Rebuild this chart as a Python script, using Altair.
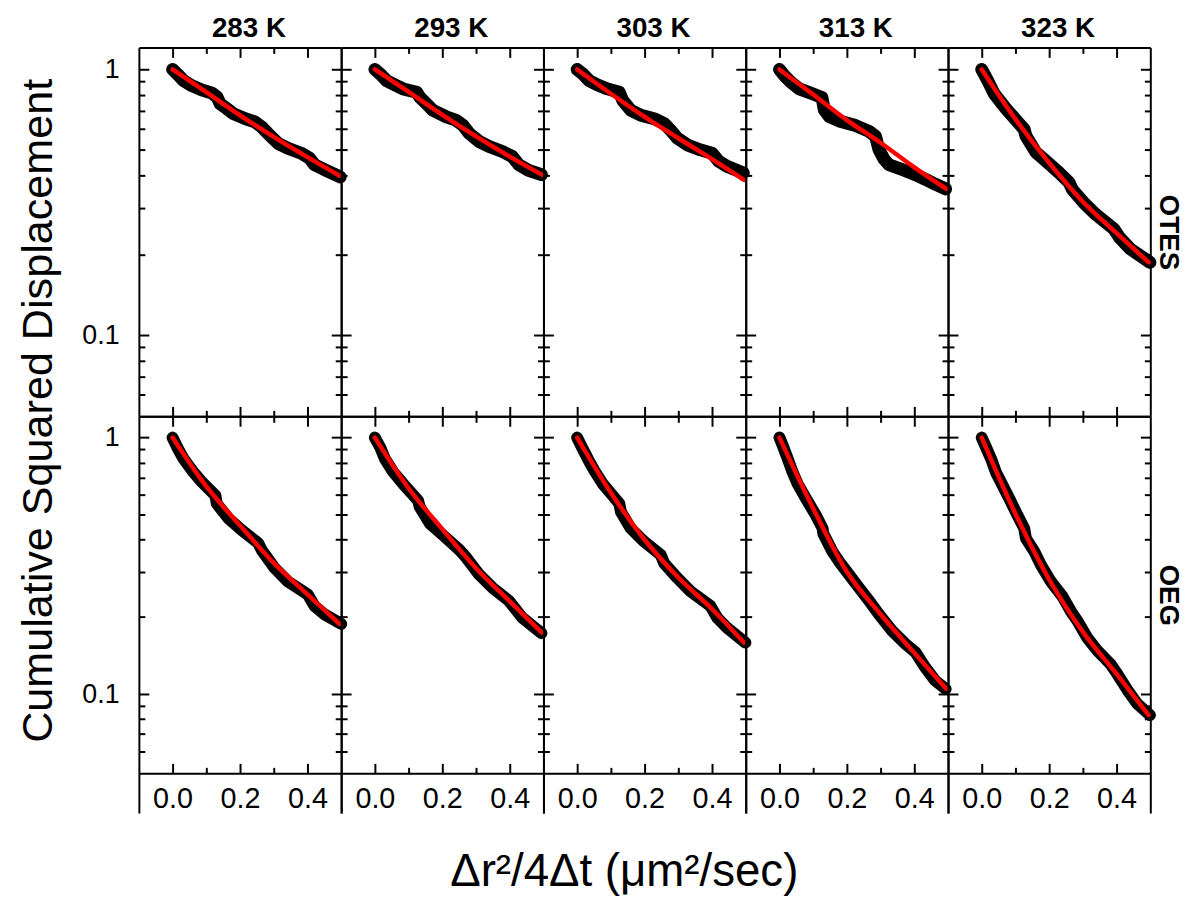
import altair as alt
import pandas as pd

TEMPS = ["283 K", "293 K", "303 K", "313 K", "323 K"]
ROWS = ["OTES", "OEG"]

# measured curves (black symbols), x = dr^2/4dt, v = cumulative fraction
OTES_283_X = [0, .014, .033, .057, .086, .117, .132, .141, .161, .180, .215, .244, .264, .288, .313, .342, .381, .406, .421, .450, .497]
OTES_283_V = [1, .961, .907, .869, .838, .814, .787, .743, .712, .682, .653, .635, .608, .566, .527, .505, .484, .464, .438, .420, .394]
OTES_293_X = [0, .016, .035, .060, .084, .124, .133, .153, .172, .212, .241, .261, .280, .310, .339, .378, .407, .427, .456, .494]
OTES_293_V = [1, .961, .907, .874, .845, .821, .787, .743, .702, .663, .644, .617, .574, .535, .513, .491, .471, .438, .417, .402]
OTES_303_X = [0, .017, .036, .061, .090, .125, .135, .159, .189, .228, .258, .277, .297, .327, .366, .400, .420, .444, .493]
OTES_303_V = [1, .961, .907, .874, .845, .821, .765, .702, .672, .653, .626, .591, .551, .520, .498, .484, .451, .432, .408]
OTES_313_X = [0, .015, .034, .059, .098, .126, .133, .148, .177, .226, .266, .285, .295, .310, .325, .364, .403, .433, .462, .493]
OTES_313_V = [1, .947, .895, .845, .810, .785, .705, .665, .640, .615, .585, .560, .500, .460, .438, .420, .402, .386, .370, .355]
OTES_323_X = [0, .018, .037, .072, .102, .126, .131, .161, .195, .230, .259, .269, .303, .338, .392, .410, .441, .499]
OTES_323_V = [1, .907, .810, .712, .644, .595, .562, .487, .447, .408, .376, .353, .315, .285, .251, .232, .211, .188]

OEG_283_X = [0, .014, .033, .058, .087, .127, .131, .166, .205, .254, .264, .303, .342, .401, .421, .450, .500]
OEG_283_V = [1, .915, .825, .744, .671, .595, .553, .484, .436, .388, .365, .310, .275, .245, .221, .205, .188]
OEG_293_X = [0, .016, .030, .055, .084, .128, .133, .163, .202, .251, .271, .310, .349, .398, .437, .494]
OEG_293_V = [1, .915, .825, .733, .660, .569, .537, .463, .417, .365, .341, .292, .260, .231, .199, .173]
OEG_303_X = [0, .012, .032, .051, .076, .105, .125, .130, .159, .199, .248, .258, .297, .336, .395, .415, .444, .499]
OEG_303_V = [1, .929, .825, .744, .660, .595, .553, .513, .443, .393, .349, .324, .284, .252, .221, .199, .182, .159]
OEG_313_X = [0, .010, .025, .039, .054, .079, .108, .128, .130, .157, .177, .207, .236, .266, .295, .334, .374, .403, .433, .462, .493]
OEG_313_V = [1, .929, .825, .733, .660, .578, .498, .443, .423, .360, .329, .292, .260, .231, .205, .177, .157, .146, .127, .113, .105]
OEG_323_X = [0, .013, .028, .042, .062, .082, .106, .126, .131, .156, .175, .205, .239, .264, .284, .313, .343, .382, .402, .432, .461, .499]
OEG_323_V = [1, .915, .825, .733, .651, .578, .498, .443, .405, .360, .320, .275, .241, .211, .193, .166, .148, .131, .120, .104, .092, .083]

# fitted curves (red lines)
FIT_X = [0.0, 0.1, 0.2, 0.3, 0.4, 0.495]
FIT_OTES_283 = [1, .821, .672, .558, .468, .398]
FIT_OTES_293 = [1, .823, .675, .560, .470, .402]
FIT_OTES_303 = [1, .810, .663, .551, .460, .384]
FIT_OTES_313 = [1, .805, .645, .530, .428, .355]
FIT_OTES_323 = [1, .650, .445, .318, .242, .188]
FIT_OEG_283 = [1, .645, .455, .325, .245, .188]
FIT_OEG_293 = [1, .635, .440, .310, .230, .174]
FIT_OEG_303 = [1, .610, .400, .285, .215, .159]
FIT_OEG_313 = [1, .530, .300, .205, .145, .105]
FIT_OEG_323 = [1, .505, .280, .175, .120, .083]

X_MAJOR = [0.0, 0.2, 0.4]
X_MINOR = [0.1, 0.3]
Y_MAJOR = [0.1, 1]
Y_MINOR = [0.2, 0.3, 0.4, 0.5, 0.6, 0.7, 0.8, 0.9, 0.06, 0.07, 0.08, 0.09]

PANELS = [
    [(OTES_283_X, OTES_283_V, FIT_OTES_283), (OTES_293_X, OTES_293_V, FIT_OTES_293),
     (OTES_303_X, OTES_303_V, FIT_OTES_303), (OTES_313_X, OTES_313_V, FIT_OTES_313),
     (OTES_323_X, OTES_323_V, FIT_OTES_323)],
    [(OEG_283_X, OEG_283_V, FIT_OEG_283), (OEG_293_X, OEG_293_V, FIT_OEG_293),
     (OEG_303_X, OEG_303_V, FIT_OEG_303), (OEG_313_X, OEG_313_V, FIT_OEG_313),
     (OEG_323_X, OEG_323_V, FIT_OEG_323)],
]

FONT = "Liberation Sans"
W = 204
H_TOP = 372
H_BOT = 400      # includes the 40 px strip below the frame
FRAME_BOT = 360  # frame height of the bottom row


def inward(orient, offset, values, size, domain):
    return alt.Axis(orient=orient, offset=offset, values=values, tickSize=size,
                    labels=False, title=None, domain=domain, grid=False)


def panel(row, col):
    bx, bv, fv = PANELS[row][col]
    H = H_TOP if row == 0 else H_BOT
    fb = H_TOP if row == 0 else FRAME_BOT
    ydom = [0.0495, 1.21] if row == 0 else [0.0345, 1.21]
    xs = alt.Scale(domain=[-0.1, 0.5], nice=False, zero=False)
    ys = alt.Scale(type="log", domain=ydom, nice=False)
    black = pd.DataFrame({"x": bx, "v": bv})
    fit = pd.DataFrame({"x": FIT_X, "v": fv})

    def enc(base, xaxis, yaxis):
        return base.encode(
            x=alt.X("x:Q", scale=xs, axis=xaxis),
            y=alt.Y("v:Q", scale=ys, axis=yaxis),
        )

    ghost = alt.Chart(black).mark_line(opacity=0)
    layers = [
        enc(ghost, inward("bottom", -H, X_MAJOR, 10, True), inward("right", -W, Y_MAJOR, 10, True)),
        enc(ghost, inward("bottom", -H, X_MINOR, 6, False), inward("right", -W, Y_MINOR, 6, False)),
        enc(ghost, inward("top", -fb, X_MAJOR, 10, True), inward("left", -W, Y_MAJOR, 10, True)),
        enc(ghost, inward("top", -fb, X_MINOR, 6, False), inward("left", -W, Y_MINOR, 6, False)),
    ]

    xlab = None
    if row == 1:
        kw = dict(orient="bottom", offset=-(H_BOT - FRAME_BOT), values=X_MAJOR, format=".1f",
                  ticks=False, tickSize=0, domain=False, labelPadding=11, labelFontSize=29,
                  grid=False, title=None)
        if col == 2:
            kw.update(title="Δr²/4Δt (μm²/sec)", titleFontSize=46, titleX=81, titleY=113,
                      titleAlign="center", titleBaseline="alphabetic", titleFontWeight="normal")
        xlab = alt.Axis(**kw)
    ylab = None
    if col == 0:
        kw = dict(orient="left", values=Y_MAJOR, format="~g", ticks=False, tickSize=0,
                  domain=False, labelPadding=20, labelFontSize=27, grid=False, title=None)
        if row == 0:
            kw.update(title="Cumulative Squared Displacement", titleFontSize=43.5, titleAngle=270,
                      titleX=-101, titleY=366, titleAlign="center", titleBaseline="middle",
                      titleFontWeight="normal")
        ylab = alt.Axis(**kw)
    elif col == 4:
        ylab = alt.Axis(orient="right", labels=False, ticks=False, domain=False, grid=False,
                        title=ROWS[row], titleAngle=90, titleFontSize=28, titleFontWeight="bold",
                        titleX=17, titleY=(186 if row == 0 else 180), titleAlign="center",
                        titleBaseline="middle")
    if xlab is not None or ylab is not None:
        layers.append(enc(ghost, xlab, ylab))

    layers.append(enc(alt.Chart(black).mark_line(color="black", strokeWidth=(13 if row == 0 else 12),
                                                  strokeCap="round", strokeJoin="round"), None, None))
    layers.append(enc(alt.Chart(fit).mark_line(color="#ff0000", strokeWidth=4.5, strokeCap="round",
                                                interpolate="monotone"), None, None))

    ch = alt.layer(*layers).resolve_axis(x="independent", y="independent").properties(width=W, height=H)
    if row == 0:
        ch = ch.properties(title=alt.TitleParams(TEMPS[col], fontSize=28, fontWeight="bold", font=FONT,
                                                 frame="group", anchor="middle", dx=9, offset=-18,
                                                 baseline="alphabetic", color="black"))
    return ch


panels = [panel(r, c) for r in range(2) for c in range(5)]
chart = alt.concat(*panels, columns=5, spacing=0, bounds="flush", align="each").properties(
    padding={"left": 8, "top": 3, "right": 5, "bottom": 5}
).configure_view(stroke=None).configure_axis(
    domainColor="black", domainWidth=2, tickColor="black", tickWidth=2,
    labelColor="black", titleColor="black", labelFont=FONT, titleFont=FONT, grid=False
)

chart.save("out.html", embed_options={"renderer": "svg", "actions": False})
